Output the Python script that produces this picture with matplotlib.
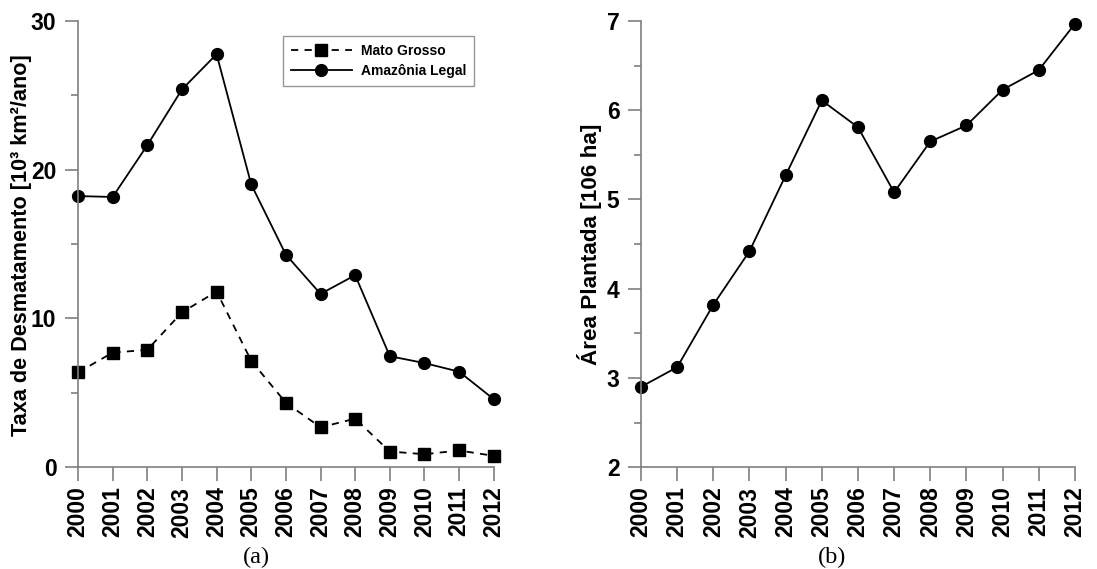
import matplotlib
matplotlib.use('Agg')
import matplotlib.pyplot as plt
from matplotlib.ticker import MultipleLocator

anos = list(range(2000, 2013))
mato_grosso = [6.37, 7.70, 7.89, 10.41, 11.81, 7.15, 4.33, 2.68, 3.26, 1.05, 0.87, 1.12, 0.76]
amazonia_legal = [18.23, 18.17, 21.65, 25.40, 27.77, 19.01, 14.29, 11.65, 12.91, 7.46, 7.00, 6.42, 4.57]
area_plantada = [2.90, 3.12, 3.82, 4.42, 5.27, 6.11, 5.81, 5.08, 5.65, 5.83, 6.23, 6.45, 6.97]

plt.rcParams['font.family'] = ['Liberation Sans', 'DejaVu Sans']
spine_cor = '#7f7f7f'

fig = plt.figure(figsize=(10.97, 5.69), dpi=100)
ax1 = fig.add_axes([0.0711, 0.179, 0.379, 0.784])
ax2 = fig.add_axes([0.5843, 0.179, 0.3956, 0.784])


def estilo(ax, ymin, ymax, major, minor):
    ax.set_xlim(2000, 2012)
    ax.set_ylim(ymin, ymax)
    for s in ['top', 'right']:
        ax.spines[s].set_visible(False)
    for s in ['left', 'bottom']:
        ax.spines[s].set_color(spine_cor)
        ax.spines[s].set_linewidth(1.2)
    ax.set_xticks(anos)
    ax.set_xticklabels([str(a) for a in anos], rotation=90, fontweight='bold', fontsize=16.5)
    ax.yaxis.set_major_locator(MultipleLocator(major))
    ax.yaxis.set_minor_locator(MultipleLocator(minor))
    ax.tick_params(axis='y', which='major', length=9.5, width=1.2, color=spine_cor, labelsize=16.5, pad=6)
    ax.tick_params(axis='y', which='minor', length=5, width=1.2, color=spine_cor)
    ax.tick_params(axis='x', which='major', length=10, width=1.2, color=spine_cor, labelsize=16.5, pad=4)
    for lab in ax.get_yticklabels():
        lab.set_fontweight('bold')


# (a)
ax1.plot(anos, mato_grosso, color='black', linestyle=(0, (4, 3.5)), linewidth=1.3,
         marker='s', markersize=8, label='Mato Grosso', clip_on=False)
ax1.plot(anos, amazonia_legal, color='black', linestyle='-', linewidth=1.3,
         marker='o', markersize=8.5, label='Amazônia Legal', clip_on=False)
estilo(ax1, 0, 30, 10, 5)
ax1.set_ylabel('Taxa de Desmatamento [10³ km²/ano]', fontsize=15.6, fontweight='bold',
               va='center')
ax1.yaxis.set_label_coords(-0.137, 0.498)
leg = ax1.legend(loc='upper left', bbox_to_anchor=(0.493, 0.966), fancybox=False,
                 prop={'weight': 'bold', 'size': 10}, handlelength=4.4, handletextpad=0.7,
                 borderpad=0.55, labelspacing=0.45, borderaxespad=0)
leg.get_frame().set_edgecolor(spine_cor)
leg.get_frame().set_linewidth(1.0)
ax1.text(0.43, -0.202, '(a)', transform=ax1.transAxes, ha='center', va='center',
         fontsize=17.5, family='Liberation Serif')

# (b)
ax2.plot(anos, area_plantada, color='black', linestyle='-', linewidth=1.3,
         marker='o', markersize=8.5, clip_on=False)
estilo(ax2, 2, 7, 1, 0.5)
ax2.set_ylabel('Área Plantada [106 ha]', fontsize=16.2, fontweight='bold', va='center')
ax2.yaxis.set_label_coords(-0.1175, 0.5)
ax2.text(0.44, -0.202, '(b)', transform=ax2.transAxes, ha='center', va='center',
         fontsize=17.5, family='Liberation Serif')

fig.savefig('out.png', dpi=100)
